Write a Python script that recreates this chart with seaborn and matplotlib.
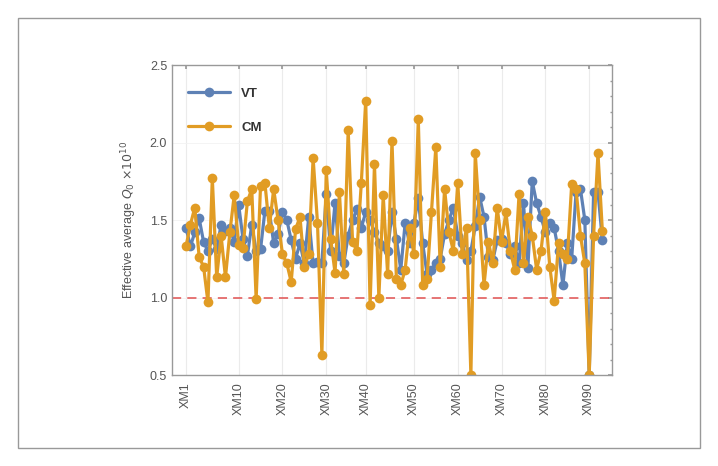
import numpy as np
import pandas as pd
import matplotlib
matplotlib.use("Agg")
import matplotlib.pyplot as plt
import seaborn as sns
from matplotlib.patches import Rectangle
from matplotlib.ticker import MultipleLocator
from matplotlib.lines import Line2D

# ---- data ----
vt = [1.45, 1.33, 1.42, 1.51, 1.36, 1.30, 1.38, 1.31, 1.47, 1.43,
      1.45, 1.36, 1.60, 1.38, 1.27, 1.47, 1.30, 1.31, 1.56, 1.56,
      1.35, 1.41, 1.55, 1.50, 1.37, 1.25, 1.35, 1.22, 1.52, 1.22,
      1.23, 1.22, 1.67, 1.30, 1.61, 1.27, 1.22, 1.40, 1.50, 1.57,
      1.45, 1.55, 1.50, 1.42, 1.35, 1.33, 1.30, 1.55, 1.38, 1.18,
      1.48, 1.35, 1.48, 1.64, 1.35, 1.15, 1.18, 1.22, 1.25, 1.41,
      1.50, 1.58, 1.40, 1.35, 1.24, 1.30, 1.46, 1.65, 1.52, 1.26,
      1.24, 1.37, 1.38, 1.35, 1.28, 1.33, 1.22, 1.61, 1.19, 1.75,
      1.61, 1.52, 1.42, 1.48, 1.45, 1.30, 1.08, 1.35, 1.25, 1.68,
      1.70, 1.50, 0.50, 1.68, 1.68, 1.37]
cm = [1.33, 1.47, 1.58, 1.26, 1.20, 0.97, 1.77, 1.13, 1.40, 1.13,
      1.42, 1.66, 1.34, 1.32, 1.62, 1.70, 0.99, 1.72, 1.74, 1.45,
      1.70, 1.50, 1.28, 1.22, 1.10, 1.44, 1.52, 1.20, 1.28, 1.90,
      1.48, 0.63, 1.82, 1.38, 1.16, 1.68, 1.15, 2.08, 1.36, 1.30,
      1.74, 2.27, 0.95, 1.86, 1.00, 1.66, 1.15, 2.01, 1.12, 1.08,
      1.18, 1.45, 1.28, 2.15, 1.08, 1.12, 1.55, 1.97, 1.20, 1.70,
      1.42, 1.30, 1.74, 1.28, 1.45, 0.50, 1.93, 1.50, 1.08, 1.36,
      1.22, 1.58, 1.36, 1.55, 1.30, 1.18, 1.67, 1.22, 1.52, 1.40,
      1.18, 1.30, 1.55, 1.20, 0.98, 1.35, 1.28, 1.25, 1.73, 1.70,
      1.40, 1.22, 0.50, 1.40, 1.93, 1.43]
series_names = ["VT", "CM"]
tick_labels = ["XM1", "XM10", "XM20", "XM30", "XM40",
               "XM50", "XM60", "XM70", "XM80", "XM90"]
tick_index = [0, 12, 22, 32, 41, 52, 62, 72, 82, 92]

n = len(vt)
df = pd.DataFrame({
    "idx": list(range(n)) * 2,
    "value": vt + cm,
    "series": [series_names[0]] * n + [series_names[1]] * n,
})

sns.set_theme(style="white")
plt.rcParams["font.family"] = ["Liberation Sans", "DejaVu Sans"]

fig = plt.figure(figsize=(7.18, 4.66), dpi=100)
ax = fig.add_axes([172 / 718, 1 - 375 / 466, 440 / 718, 310 / 466])

blue = "#5E81B5"
orange = "#E19C24"
palette = {"VT": blue, "CM": orange}

sns.lineplot(data=df, x="idx", y="value", hue="series", palette=palette,
             marker="o", markersize=7, markeredgewidth=0, linewidth=2.3,
             ax=ax, legend=False, sort=False)

ax.axhline(1.0, color="#E05050", linestyle=(0, (6, 4)), linewidth=1.1, zorder=1)

ax.set_xlim(-3.2, n + 1.2)
ax.set_ylim(0.5, 2.5)
ax.set_xticks(tick_index)
ax.set_xticklabels(tick_labels, rotation=90, fontsize=9, color="#555555")
ax.yaxis.set_major_locator(MultipleLocator(0.5))
ax.yaxis.set_minor_locator(MultipleLocator(0.1))
ax.set_yticks([0.5, 1.0, 1.5, 2.0, 2.5])
ax.set_yticklabels(["0.5", "1.0", "1.5", "2.0", "2.5"], fontsize=9, color="#555555")
ax.tick_params(axis="both", which="both", direction="in", color="#999999",
               top=True, right=True, length=3)
ax.tick_params(axis="both", which="minor", length=1.5)
ax.tick_params(axis="x", pad=5)
ax.set_xlabel("")
ax.set_ylabel(r"Effective average $Q_0$ $\times10^{10}$", fontsize=9,
              color="#555555", labelpad=8)
ax.grid(True, axis="x", color="#EBEBEB", linewidth=0.8)
ax.grid(True, axis="y", color="#F2F2F2", linewidth=0.6)
ax.set_axisbelow(True)
for sp in ax.spines.values():
    sp.set_color("#999999")
    sp.set_linewidth(1.0)

# legend
handles = [Line2D([0], [0], color=palette[s], marker="o", markersize=7,
                  markeredgewidth=0, linewidth=2.3) for s in series_names]
leg = ax.legend(handles, series_names, loc="upper left", frameon=False,
                fontsize=9.5, labelspacing=1.65, handlelength=3.2,
                bbox_to_anchor=(0.01, 0.965))
for t in leg.get_texts():
    t.set_fontweight("bold")
    t.set_color("#333333")

# outer frame
fig.patches.append(Rectangle((18 / 718, 1 - 448 / 466), 682 / 718, 430 / 466,
                             transform=fig.transFigure, fill=False,
                             edgecolor="#999999", linewidth=1.0))

fig.savefig("out.png", dpi=100)
